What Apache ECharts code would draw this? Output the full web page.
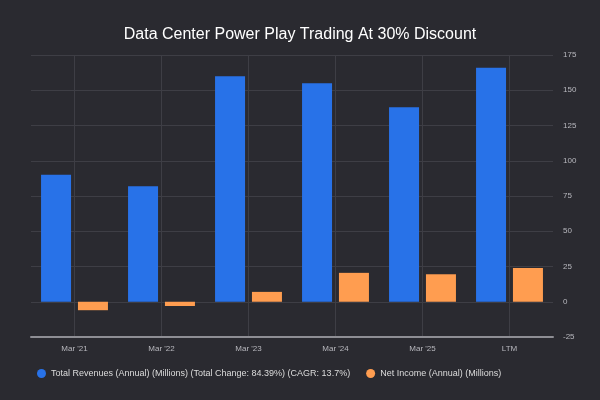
<!DOCTYPE html>
<html>
<head>
<meta charset="utf-8">
<script src="https://cdn.jsdelivr.net/npm/echarts@6/dist/echarts.min.js"></script>
<style>
  html, body { margin: 0; padding: 0; background: #2a2a30; }
  #chart { width: 600px; height: 400px; }
</style>
</head>
<body>
<div id="chart"></div>
<script>
var categories = ["Mar '21", "Mar '22", "Mar '23", "Mar '24", "Mar '25", 'LTM'];
var revenues = [90, 82, 160, 155, 138, 166];
var netIncome = [-6, -3, 7, 20.5, 19.5, 24];
var revenueName = 'Total Revenues (Annual) (Millions) (Total Change: 84.39%) (CAGR: 13.7%)';
var incomeName = 'Net Income (Annual) (Millions)';

var myChart = echarts.init(document.getElementById('chart'));
var font = 'Liberation Sans, Arial, Helvetica, sans-serif';

var option = {
  backgroundColor: '#2a2a30',
  textStyle: { fontFamily: font },
  title: {
    text: 'Data Center Power Play Trading At 30% Discount',
    left: 'center',
    top: 22,
    textStyle: { color: '#ffffff', fontSize: 16, fontWeight: 'normal', fontFamily: font }
  },
  legend: {
    left: 32,
    top: 364,
    icon: 'circle',
    itemWidth: 9,
    itemHeight: 9,
    itemGap: 16,
    textStyle: { color: '#dcdcdc', fontSize: 9, fontFamily: font },
    data: [revenueName, incomeName]
  },
  grid: {
    left: 31,
    right: 47,
    top: 55,
    bottom: 63
  },
  xAxis: {
    type: 'category',
    data: categories,
    axisLine: { onZero: false, lineStyle: { color: '#8e8e94', width: 2 } },
    axisTick: { show: false },
    axisLabel: { color: '#b8b8be', fontSize: 8, margin: 8 },
    splitLine: { show: true, alignWithLabel: true, lineStyle: { color: '#3e3e45', width: 1 } }
  },
  yAxis: {
    type: 'value',
    position: 'right',
    min: -25,
    max: 175,
    interval: 25,
    axisLine: { show: false },
    axisTick: { show: false },
    axisLabel: { color: '#b8b8be', fontSize: 8, margin: 10 },
    splitLine: { lineStyle: { color: '#3e3e45', width: 1 } }
  },
  series: [
    {
      name: revenueName,
      type: 'bar',
      data: revenues,
      barWidth: 30,
      barGap: '23%',
      itemStyle: { color: '#2872e8' }
    },
    {
      name: incomeName,
      type: 'bar',
      data: netIncome,
      barWidth: 30,
      itemStyle: { color: '#ff9d50' }
    }
  ]
};

myChart.setOption(option);
</script>
</body>
</html>
